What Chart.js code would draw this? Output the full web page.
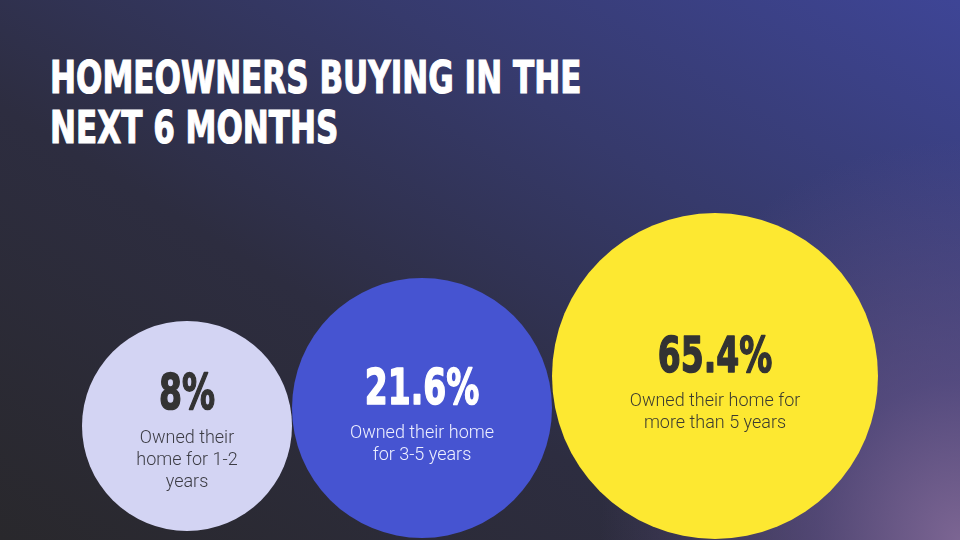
<!DOCTYPE html>
<html>
<head>
  <title>Homeowners buying in the next 6 months</title>
  <script src="https://cdn.jsdelivr.net/npm/chart.js"></script>
  <style>
    html, body { margin: 0; padding: 0; }
    body {
      width: 960px; height: 540px; overflow: hidden; position: relative;
      background:
        radial-gradient(ellipse 360px 400px at 100% 100%, rgba(128,104,150,0.95) 0%, rgba(104,86,142,0.6) 40%, rgba(70,66,120,0) 100%),
        linear-gradient(32deg, #29282c 0%, #2d2d40 38%, #363a6c 68%, #3e4596 100%);
    }
    #title {
      position: absolute; left: 50px; top: 53px; margin: 0;
      font-family: "DejaVu Sans", sans-serif;
      font-weight: bold; font-size: 45px; line-height: 50px; color: #fff;
      -webkit-text-stroke: 1.2px #fff;
      transform: scaleX(0.69); transform-origin: 0 0; white-space: nowrap;
    }
    #wrap { position: absolute; left: 0; top: 0; width: 960px; height: 540px; }
  </style>
</head>
<body>
  <div id="title">HOMEOWNERS BUYING IN THE<br>NEXT 6 MONTHS</div>
  <div id="wrap"><canvas id="chart"></canvas></div>

  <script>
    // data
    const categories = ['1-2 years', '3-5 years', 'More than 5 years'];
    const shares = [8, 21.6, 65.4];
    const pctLabels = ['8%', '21.6%', '65.4%'];
    const captions = [
      ['Owned their', 'home for 1-2', 'years'],
      ['Owned their home', 'for 3-5 years'],
      ['Owned their home for', 'more than 5 years']
    ];

    // layout of the bubbles (pixels on a 960x540 scale)
    const radii = [105, 130, 163];
    const centreY = [426, 408, 376];
    const leftEdge = 82;
    const fills = ['#d3d4f3', '#4654d1', '#fde831'];
    const textColours = ['#333333', '#ffffff', '#333333'];
    const captionColours = ['#3c3c44', '#eef0ff', '#3c3c30'];

    // bubbles touch each other, so the centres follow from the radii
    const centreX = [];
    let edge = leftEdge;
    radii.forEach((r) => { centreX.push(edge + r); edge += 2 * r; });

    const points = shares.map((v, i) => ({ x: centreX[i], y: centreY[i], r: radii[i], v: v }));

    const labelPlugin = {
      id: 'bubbleLabels',
      afterDatasetsDraw(chart) {
        const ctx = chart.ctx;
        const meta = chart.getDatasetMeta(0);
        ctx.save();
        ctx.textAlign = 'center';
        ctx.textBaseline = 'middle';
        meta.data.forEach((el, i) => {
          const n = captions[i].length;
          const pctY = el.y + 7 - 13 * n;
          ctx.fillStyle = textColours[i];
          ctx.strokeStyle = textColours[i];
          ctx.lineWidth = 1.6;
          ctx.lineJoin = 'round';
          ctx.font = 'bold 50px "DejaVu Sans", sans-serif';
          ctx.save();
          ctx.translate(el.x, pctY + 2);
          ctx.scale(0.66, 1);
          ctx.fillText(pctLabels[i], 0, 0);
          ctx.strokeText(pctLabels[i], 0, 0);
          ctx.restore();
          ctx.fillStyle = captionColours[i];
          ctx.font = '300 18px Roboto, sans-serif';
          captions[i].forEach((line, j) => {
            ctx.fillText(line, el.x, pctY + 44 + j * 22);
          });
        });
        ctx.restore();
      }
    };

    new Chart(document.getElementById('chart'), {
      type: 'bubble',
      data: {
        labels: categories,
        datasets: [{
          data: points,
          backgroundColor: fills,
          borderWidth: 0,
          hoverBorderWidth: 0,
          clip: false
        }]
      },
      options: {
        responsive: true,
        maintainAspectRatio: false,
        animation: false,
        layout: { padding: 0, autoPadding: false },
        scales: {
          x: { type: 'linear', min: 0, max: 960, display: false },
          y: { type: 'linear', min: 0, max: 540, reverse: true, display: false }
        },
        plugins: {
          legend: { display: false },
          tooltip: { enabled: false }
        }
      },
      plugins: [labelPlugin]
    });
  </script>
</body>
</html>
